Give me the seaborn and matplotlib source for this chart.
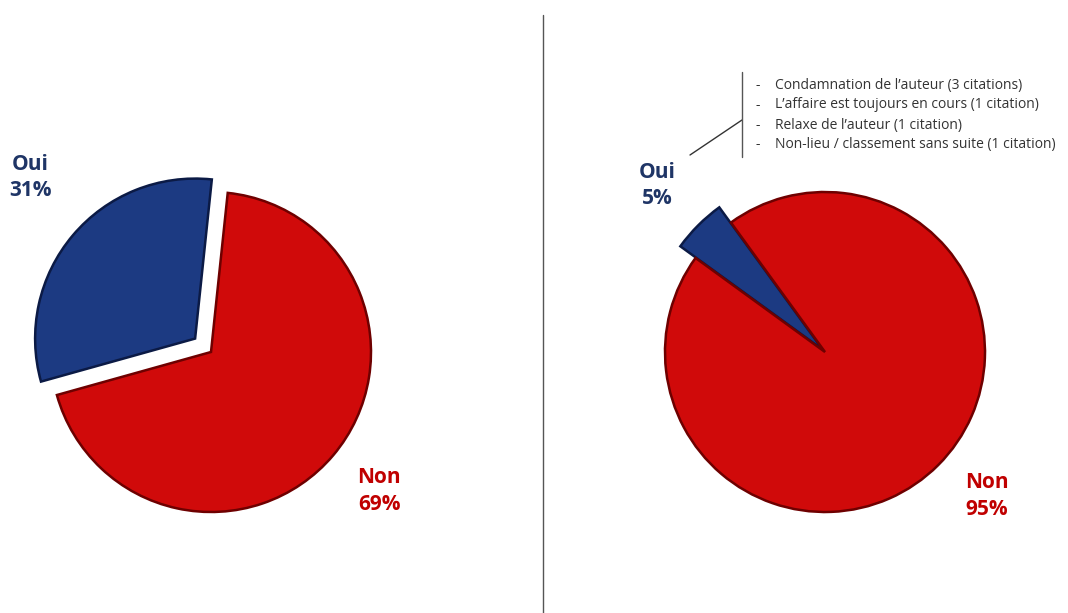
import matplotlib
matplotlib.use("Agg")
import matplotlib.pyplot as plt
from matplotlib.lines import Line2D
import seaborn as sns

# données
categories = ['Oui', 'Non']
values_left = [31, 69]
values_right = [5, 95]
details_oui = [
    "Condamnation de l\u2019auteur (3 citations)",
    "L\u2019affaire est toujours en cours (1 citation)",
    "Relaxe de l\u2019auteur (1 citation)",
    "Non-lieu / classement sans suite (1 citation)",
]

COLORS = {'Oui': '#1c3a82', 'Non': '#d00a0a'}
EDGES = {'Oui': '#0b1a45', 'Non': '#6e0000'}
TEXT = {'Oui': '#1f3566', 'Non': '#c00000'}

sns.set_theme(style="white")
plt.rcParams['font.family'] = ['Open Sans', 'DejaVu Sans']

W, H = 1068, 613
fig = plt.figure(figsize=(W / 100, H / 100), dpi=100)


def pie_axes(cx, cy):
    # cx, cy en pixels (origine en haut à gauche), rayon 1 = 160 px
    size = 400
    ax = fig.add_axes([(cx - size / 2) / W, (H - cy - size / 2) / H, size / W, size / H])
    return ax


def draw_pie(ax, values, startangle, explode, oui_radius, label_pos):
    wedges, _ = ax.pie(values, colors=[COLORS[c] for c in categories],
                       explode=[explode, 0], startangle=startangle, counterclock=True,
                       radius=1, frame=True,
                       wedgeprops=dict(linewidth=1.8))
    for w, c in zip(wedges, categories):
        w.set_edgecolor(EDGES[c])
    wedges[0].set_radius(oui_radius)
    ax.set_xlim(-1.25, 1.25)
    ax.set_ylim(-1.25, 1.25)
    ax.set_aspect('equal')
    ax.axis('off')
    for c, v, (x, y) in zip(categories, values, label_pos):
        ax.text(x, y, f"{c}\n{v}%", color=TEXT[c], fontsize=15, fontweight='bold',
                ha='center', va='center', linespacing=1.35, clip_on=False)


ax1 = pie_axes(211, 352)
draw_pie(ax1, values_left, 84, 0.13, 1.0, [(-1.13, 1.09), (1.05, -0.87)])

ax2 = pie_axes(825, 352)
draw_pie(ax2, values_right, 126, 0.02, 1.1, [(-1.05, 1.04), (1.01, -0.90)])

# séparateur vertical
fig.add_artist(Line2D([543 / W, 543 / W], [0, 1 - 15 / H], color='#555555', lw=1))

# accolade + liste des détails
fig.add_artist(Line2D([690 / W, 742 / W], [1 - 155 / H, 1 - 120 / H], color='#333333', lw=1))
fig.add_artist(Line2D([742 / W, 742 / W], [1 - 72 / H, 1 - 157 / H], color='#555555', lw=1))
for i, t in enumerate(details_oui):
    y = 1 - (85 + i * 20) / H
    fig.text(755 / W, y, "-", fontsize=10, color='#333333', va='center')
    fig.text(775 / W, y, t, fontsize=10, color='#333333', va='center')

plt.savefig('out.png', dpi=100, facecolor='white')
